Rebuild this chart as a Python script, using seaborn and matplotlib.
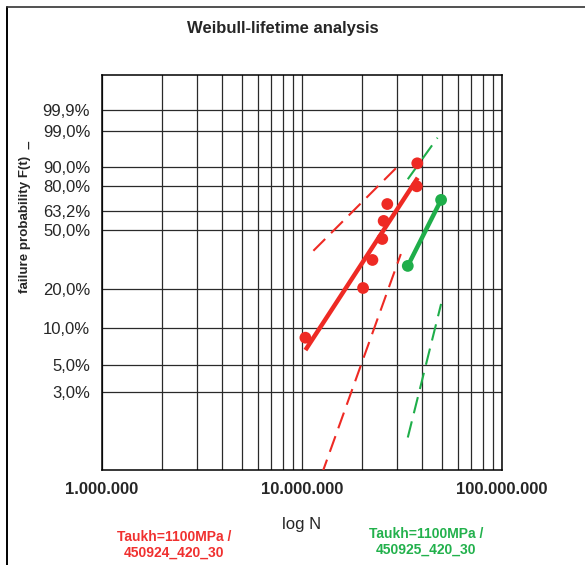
import numpy as np
import pandas as pd
import matplotlib
matplotlib.use("Agg")
import matplotlib.pyplot as plt
from matplotlib.ticker import FixedLocator, FixedFormatter, LogLocator, NullFormatter
from matplotlib.lines import Line2D
import seaborn as sns

# Failure data: cycles to failure and median-rank failure probability
red_cycles = [10.4e6, 20.2e6, 22.5e6, 25.2e6, 25.6e6, 26.7e6, 37.5e6, 37.7e6]
red_prob = [0.083, 0.202, 0.321, 0.440, 0.560, 0.679, 0.798, 0.917]
green_cycles = [33.8e6, 49.6e6]
green_prob = [0.292, 0.708]

# Weibull fit lines and confidence bounds (end points)
red_fit_cycles = [10.4e6, 37.9e6]
red_fit_prob = [0.066, 0.848]
red_upper_cycles = [11.4e6, 31.2e6]
red_upper_prob = [0.370, 0.917]
red_lower_cycles = [12.5e6, 31.2e6]
red_lower_prob = [0.0061, 0.352]
green_fit_cycles = [33.8e6, 49.6e6]
green_fit_prob = [0.292, 0.708]
green_upper_cycles = [33.8e6, 47.6e6]
green_upper_prob = [0.840, 0.983]
green_lower_cycles = [33.8e6, 49.6e6]
green_lower_prob = [0.0126, 0.153]

prob_ticks = [0.999, 0.99, 0.9, 0.8, 0.632, 0.5, 0.2, 0.1, 0.05, 0.03]
prob_labels = ["99,9%", "99,0%", "90,0%", "80,0%", "63,2%", "50,0%",
               "20,0%", "10,0%", "5,0%", "3,0%"]
cycle_ticks = [1e6, 1e7, 1e8]
cycle_labels = ["1.000.000", "10.000.000", "100.000.000"]
series_labels = ["Taukh=1100MPa /\n450924_420_30", "Taukh=1100MPa /\n450925_420_30"]

title = "Weibull-lifetime analysis"
x_title = "log N"
y_title = "failure probability F(t)  _"

RED = "#ee2a24"
GREEN = "#1fae4a"
RED_TEXT = "#f0302f"
GREEN_TEXT = "#22b14c"

sns.set_style("white")
plt.rcParams["font.family"] = ["Liberation Sans", "DejaVu Sans"]

W, H = 585, 565
fig = plt.figure(figsize=(W / 100, H / 100), dpi=100)
ax = fig.add_axes([102 / W, (H - 470) / H, 400 / W, 395 / H])


def weibull_fwd(p):
    p = np.clip(np.asarray(p, dtype=float), 1e-12, 1 - 1e-15)
    return np.log(-np.log(1 - p))


def weibull_inv(w):
    return 1 - np.exp(-np.exp(np.asarray(w, dtype=float)))


ax.set_xscale("log")
ax.set_yscale("function", functions=(weibull_fwd, weibull_inv))

pts = pd.concat([
    pd.DataFrame({"N": red_cycles, "F": red_prob, "series": "red"}),
    pd.DataFrame({"N": green_cycles, "F": green_prob, "series": "green"}),
])

dash = (0, (8, 4))
lines = [
    (red_fit_cycles, red_fit_prob, RED, 3.2, "-"),
    (red_upper_cycles, red_upper_prob, RED, 1.5, dash),
    (red_lower_cycles, red_lower_prob, RED, 1.5, dash),
    (green_fit_cycles, green_fit_prob, GREEN, 3.2, "-"),
    (green_upper_cycles, green_upper_prob, GREEN, 1.5, dash),
    (green_lower_cycles, green_lower_prob, GREEN, 1.5, dash),
]
for xs, ys, col, lw, ls in lines:
    sns.lineplot(x=xs, y=ys, ax=ax, color=col, linewidth=lw, linestyle=ls,
                 sort=False, estimator=None, solid_capstyle="butt", zorder=3)

sns.scatterplot(data=pts, x="N", y="F", hue="series",
                palette={"red": RED, "green": GREEN}, s=72, linewidth=0,
                ax=ax, legend=False, zorder=4)

ax.set_xlim(1e6, 1e8)
ax.set_ylim(0.00676, 1 - 1.2e-6)

ax.xaxis.set_major_locator(FixedLocator(cycle_ticks))
ax.xaxis.set_major_formatter(FixedFormatter(cycle_labels))
ax.xaxis.set_minor_locator(LogLocator(base=10, subs=np.arange(2, 10)))
ax.xaxis.set_minor_formatter(NullFormatter())
ax.yaxis.set_major_locator(FixedLocator(prob_ticks))
ax.yaxis.set_major_formatter(FixedFormatter(prob_labels))

ax.tick_params(axis="both", which="both", length=0)
ax.tick_params(axis="x", pad=9, labelsize=12)
ax.tick_params(axis="y", pad=8.5, labelsize=12)
for lab in ax.get_xticklabels():
    lab.set_fontweight("bold")

ax.grid(True, axis="x", which="both", color="#2a2a2a", linewidth=0.9)
ax.grid(True, axis="y", which="major", color="#2a2a2a", linewidth=0.9)
ax.set_axisbelow(True)
for sp in ax.spines.values():
    sp.set_visible(True)
    sp.set_color("black")
    sp.set_linewidth(1.1)
ax.set_xlabel("")
ax.set_ylabel("")


def fy(py):
    return (H - py) / H


def fx(px):
    return px / W


fig.text(fx(283), fy(32.5), title, ha="center", va="baseline",
         fontsize=12, fontweight="bold")
fig.text(fx(302), fy(529), x_title, ha="center", va="baseline", fontsize=12)
fig.text(fx(25), fy(216.5), y_title, ha="center", va="center",
         rotation=90, fontsize=9.6, fontweight="bold")

for label, cx, base, col in [(series_labels[0], 174.5, 540.7, RED_TEXT),
                             (series_labels[1], 426, 538, GREEN_TEXT)]:
    for i, line in enumerate(label.split("\n")):
        fig.text(fx(cx), fy(base + 16 * i), line, ha="center", va="baseline",
                 fontsize=10, fontweight="bold", color=col)

# outer chart frame (left and top edges)
fig.add_artist(Line2D([fx(7), fx(7)], [fy(7), 0], transform=fig.transFigure,
                      color="black", linewidth=1.4))
fig.add_artist(Line2D([fx(7), 1], [fy(7), fy(7)], transform=fig.transFigure,
                      color="#333333", linewidth=1.2))

fig.savefig("out.png", dpi=100, facecolor="white")
